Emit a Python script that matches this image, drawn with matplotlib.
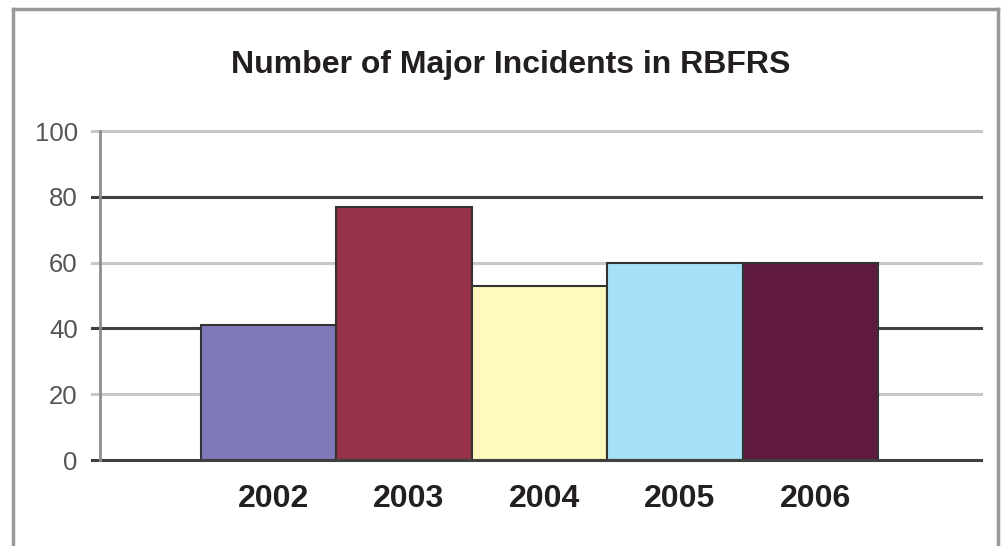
import matplotlib
matplotlib.use('Agg')
import matplotlib.pyplot as plt
import matplotlib.transforms as mtransforms
from matplotlib.lines import Line2D

plt.rcParams['font.family'] = ['Liberation Sans', 'DejaVu Sans']

# data
years = ['2002', '2003', '2004', '2005', '2006']
incidents = [41, 77, 53, 60, 60]
bar_colors = ['#7f7ab9', '#97324b', '#fff9bd', '#a6e0f7', '#611a3f']
y_ticks = [0, 20, 40, 60, 80, 100]

fig = plt.figure(figsize=(10.08, 5.46), dpi=100)
ax = fig.add_axes([0.0992, 0.1575, 0.8740, 0.6025])

x = list(range(len(years)))
ax.bar(x, incidents, width=1.0, color=bar_colors, edgecolor='#333333',
       linewidth=1.5, zorder=3)

ax.set_xlim(-1.243, 5.258)
ax.set_ylim(0, 100)

# alternating light / dark gridlines extending slightly left of the axis
ext = 8 / 881
for v in y_ticks:
    dark = v in (0, 40, 80)
    ax.axhline(v, xmin=-ext, xmax=1, color='#404040' if dark else '#c8c8c8',
               linewidth=2.2, clip_on=False, zorder=4 if v == 0 else 1)

ax.set_yticks(y_ticks)
ax.set_yticklabels([str(v) for v in y_ticks], fontsize=18.5, color='#555555')
ax.tick_params(axis='y', length=0, pad=16)
ax.set_xticks(x)
ax.set_xticklabels(years, fontsize=23, fontweight='bold', color='#231f20')
ax.tick_params(axis='x', length=0, pad=17)

# year labels sit a little right of the bar centres in the original
shift = mtransforms.ScaledTranslation(5 / 100, 0, fig.dpi_scale_trans)
for lbl in ax.get_xticklabels():
    lbl.set_transform(lbl.get_transform() + shift)

for s in ['top', 'right', 'bottom']:
    ax.spines[s].set_visible(False)
ax.spines['left'].set_color('#8c8c8c')
ax.spines['left'].set_linewidth(2)
ax.spines['left'].set_zorder(5)

fig.text(0.507, 0.881, 'Number of Major Incidents in RBFRS', fontsize=23,
         fontweight='bold', color='#231f20', ha='center', va='center')

# outer frame (left, top, right)
W, H = 1008, 546
fx0, fx1, fy0 = 13 / W, 998 / W, 1 - 9 / H
for xs, ys in [([fx0, fx0], [0, fy0]), ([fx0, fx1], [fy0, fy0]), ([fx1, fx1], [fy0, 0])]:
    fig.add_artist(Line2D(xs, ys, color='#999999', linewidth=2.5, transform=fig.transFigure))

fig.savefig('out.png', dpi=100)
